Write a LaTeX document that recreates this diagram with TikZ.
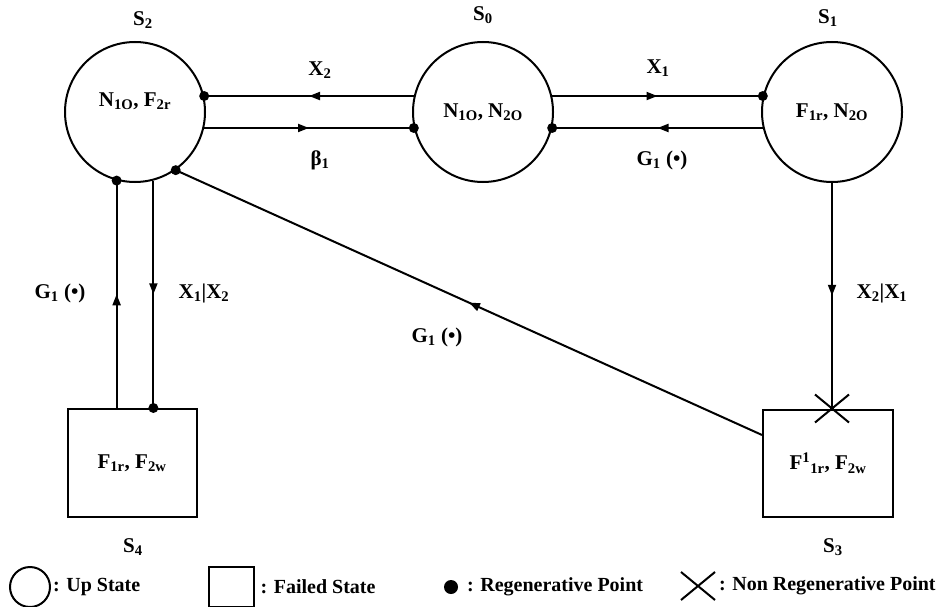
\documentclass[tikz,border=0pt]{standalone}
\usepackage{fontspec}
\setmainfont{Liberation Serif}
\usetikzlibrary{arrows.meta,decorations.markings}

\begin{document}
\begin{tikzpicture}[x=1pt, y=-1pt, line width=2pt, font=\fontsize{21}{25}\selectfont\bfseries,
    upstate/.style={draw, circle, minimum size=140pt, inner sep=0pt},
    failstate/.style={draw, rectangle, minimum width=129pt, minimum height=108pt, inner sep=0pt},
    midarrow/.style={postaction={decorate}, decoration={markings, mark=at position 0.5 with {\arrow{Triangle[length=11pt,width=8pt]}}}},
    regen/.style={circle, fill, inner sep=0pt, minimum size=10pt},
    keytext/.style={anchor=west, inner sep=1pt, font=\fontsize{20}{24}\selectfont\bfseries}]
\useasboundingbox (0,0) rectangle (939,607);
\node[upstate, text depth=24pt] (s2) at (135,112) {N\textsubscript{1O}, F\textsubscript{2r}};
\node[upstate] (s0) at (483,112) {N\textsubscript{1O}, N\textsubscript{2O}};
\node[upstate] (s1) at (832,112) {F\textsubscript{1r}, N\textsubscript{2O}};
\node[failstate] (s4) at (132,463) {F\textsubscript{1r}, F\textsubscript{2w}};
\node[failstate, minimum width=130pt, minimum height=107pt] (s3) at (828,463) {F\textsuperscript{1}\textsubscript{1r}, F\textsubscript{2w}};
\node (n2) at (143,20) {S\textsubscript{2}};
\node (n0) at (483,15) {S\textsubscript{0}};
\node (n1) at (828,18) {S\textsubscript{1}};
\node (n4) at (133,547) {S\textsubscript{4}};
\node (n3) at (833,547) {S\textsubscript{3}};

\draw[midarrow] (s0.167) -- (s2.13);
\draw[midarrow] (s2.-13) -- (s0.193);
\draw[midarrow] (s0.13) -- (s1.167);
\draw[midarrow] (s1.193) -- (s0.-13);
\draw[midarrow] (s2.-105 |- s4.north) -- (s2.-105);
\draw[midarrow] (s2.-75) -- (s2.-75 |- s4.north);
\draw[midarrow] (s1.south) -- (s1.south |- s3.north);
\draw[midarrow] (s3.157) -- (s2.-55);
\node[regen] (d1) at (s2.13) {};
\node[regen] (d2) at (s0.193) {};
\node[regen] (d3) at (s1.167) {};
\node[regen] (d4) at (s0.-13) {};
\node[regen] (d5) at (s2.-105) {};
\node[regen] (d6) at (s2.-75 |- s4.north) {};
\node[regen] (d7) at (s2.-55) {};
\coordinate (x3) at (s1.south |- s3.north);
\draw ([shift={(-17,-14)}]x3) -- ([shift={(17,14)}]x3) ([shift={(-17,14)}]x3) -- ([shift={(17,-14)}]x3);

\node (lx2) at (320,70) {X\textsubscript{2}};
\node (lb1) at (320,160) {β\textsubscript{1}};
\node (lx1) at (658,68) {X\textsubscript{1}};
\node (lg1a) at (662,160) {G\textsubscript{1} (•)};
\node (lg1b) at (60,293) {G\textsubscript{1} (•)};
\node (lx12) at (204,293) {X\textsubscript{1}|X\textsubscript{2}};
\node (lx21) at (882,293) {X\textsubscript{2}|X\textsubscript{1}};
\node (lg1c) at (437,337) {G\textsubscript{1} (•)};

\node[draw, circle, minimum size=40pt, inner sep=0pt] (kup) at (30,587) {};
\node[keytext] (tup) at (kup.east) {: Up State};
\node[draw, minimum width=45pt, minimum height=40pt, inner sep=0pt] (kfail) at (231,587) {};
\node[keytext] (tfail) at ([xshift=4pt]kfail.east) {: Failed State};
\node[regen, minimum size=14pt] (kreg) at (451,587) {};
\node[keytext] (treg) at ([xshift=6pt]kreg.east) {: Regenerative Point};
\coordinate (knon) at (698,586);
\draw ([shift={(-17,-14)}]knon) -- ([shift={(17,14)}]knon) ([shift={(-17,14)}]knon) -- ([shift={(17,-14)}]knon);
\node[keytext] (tnon) at ([xshift=19pt]knon) {: Non Regenerative Point};
\end{tikzpicture}
\end{document}
